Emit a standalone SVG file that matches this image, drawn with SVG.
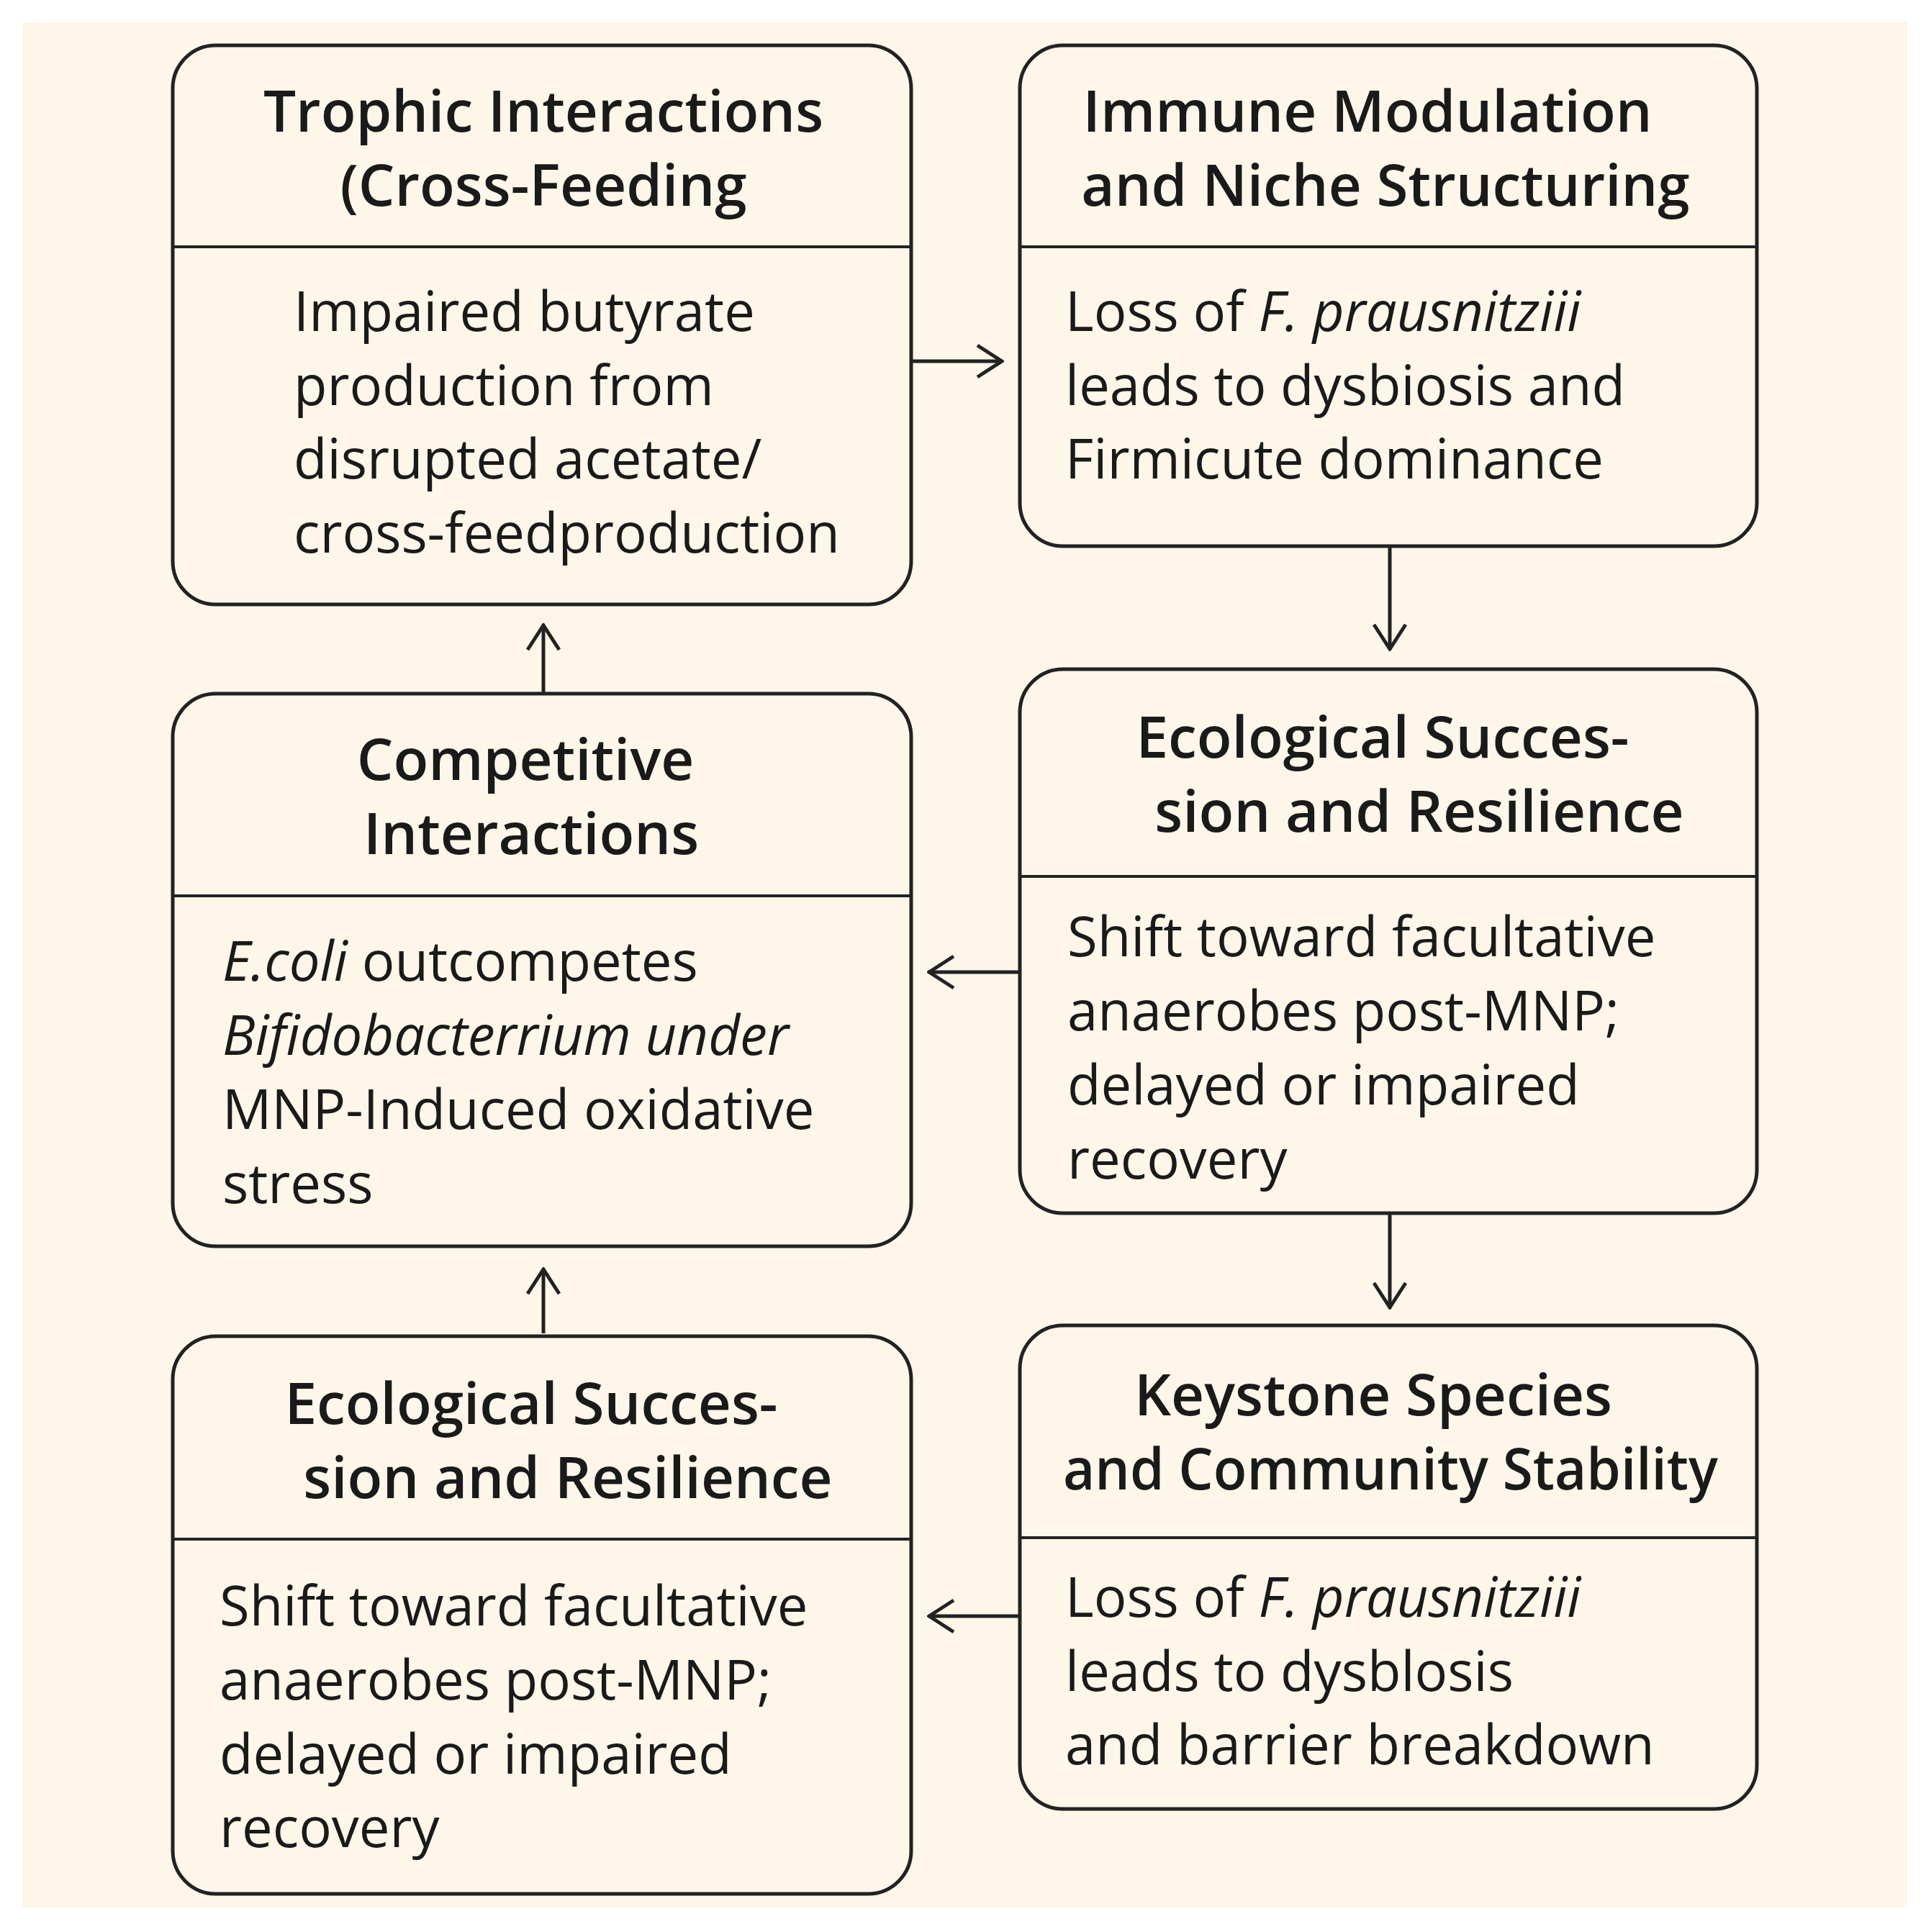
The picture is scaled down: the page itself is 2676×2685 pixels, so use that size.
<svg xmlns="http://www.w3.org/2000/svg" width="2676" height="2685" viewBox="0 0 2676 2685">
<defs>
<style>
.box{fill:#fdf6e9;stroke:#222;stroke-width:5}
.div{stroke:#222;stroke-width:4}
.h{font-family:"Open Sans","Liberation Sans",sans-serif;font-weight:600;font-size:80px;fill:#1a1a1a;text-anchor:middle}
.b{font-family:"Open Sans","Liberation Sans",sans-serif;font-size:76px;fill:#1a1a1a}
.c{stroke:#222;stroke-width:5;fill:none;marker-end:url(#ah)}
</style>
<marker id="ah" viewBox="0 0 40 50" refX="38" refY="25" markerWidth="40" markerHeight="50" markerUnits="userSpaceOnUse" orient="auto"><path d="M3,3 L37,25 L3,47" fill="none" stroke="#222" stroke-width="5"/></marker>
</defs>
<rect width="2676" height="2685" fill="#fff"/>
<rect x="31" y="31" width="2619" height="2620" fill="#fdf6e9"/>
<g id="n1"><rect class="box" x="240" y="63" width="1026" height="777" rx="60"/><line class="div" x1="240" y1="343" x2="1266" y2="343"/>
<text class="h" x="755" y="183">Trophic Interactions</text><text class="h" x="755" y="286">(Cross-Feeding</text>
<text class="b" x="408" y="460">Impaired butyrate</text><text class="b" x="408" y="563">production from</text><text class="b" x="408" y="665">disrupted acetate/</text><text class="b" x="408" y="768">cross-feedproduction</text></g>
<g id="n2"><rect class="box" x="1417" y="63" width="1024" height="696" rx="60"/><line class="div" x1="1417" y1="343" x2="2441" y2="343"/>
<text class="h" x="1900" y="183">Immune Modulation</text><text class="h" x="1925" y="286">and Niche Structuring</text>
<text class="b" x="1480" y="460">Loss of <tspan font-style="italic">F. prausnitziii</tspan></text><text class="b" x="1480" y="563">leads to dysbiosis and</text><text class="b" x="1480" y="665">Firmicute dominance</text></g>
<g id="n3"><rect class="box" x="1417" y="930" width="1024" height="756" rx="60"/><line class="div" x1="1417" y1="1218" x2="2441" y2="1218"/>
<text class="h" x="1921" y="1053">Ecological Succes-</text><text class="h" x="1972" y="1156">sion and Resilience</text>
<text class="b" x="1483" y="1329">Shift toward facultative</text><text class="b" x="1483" y="1432">anaerobes post-MNP;</text><text class="b" x="1483" y="1535">delayed or impaired</text><text class="b" x="1483" y="1638">recovery</text></g>
<g id="n4"><rect class="box" x="240" y="964" width="1026" height="768" rx="60"/><line class="div" x1="240" y1="1245" x2="1266" y2="1245"/>
<text class="h" x="730" y="1084">Competitive</text><text class="h" x="738" y="1187">Interactions</text>
<text class="b" x="309" y="1363"><tspan font-style="italic">E.coli</tspan> outcompetes</text><text class="b" x="309" y="1466" font-style="italic">Bifidobacterrium under</text><text class="b" x="309" y="1569">MNP-Induced oxidative</text><text class="b" x="309" y="1672">stress</text></g>
<g id="n5"><rect class="box" x="1417" y="1842" width="1024" height="672" rx="60"/><line class="div" x1="1417" y1="2137" x2="2441" y2="2137"/>
<text class="h" x="1908" y="1967">Keystone Species</text><text class="h" x="1932" y="2070" textLength="910" lengthAdjust="spacingAndGlyphs">and Community Stability</text>
<text class="b" x="1480" y="2247">Loss of <tspan font-style="italic">F. prausnitziii</tspan></text><text class="b" x="1480" y="2350">leads to dysblosis</text><text class="b" x="1480" y="2452">and barrier breakdown</text></g>
<g id="n6"><rect class="box" x="240" y="1857" width="1026" height="775" rx="60"/><line class="div" x1="240" y1="2139" x2="1266" y2="2139"/>
<text class="h" x="738" y="1979">Ecological Succes-</text><text class="h" x="789" y="2082">sion and Resilience</text>
<text class="b" x="305" y="2259">Shift toward facultative</text><text class="b" x="305" y="2362">anaerobes post-MNP;</text><text class="b" x="305" y="2465">delayed or impaired</text><text class="b" x="305" y="2567">recovery</text></g>
<g id="connectors">
<path class="c" d="M1268,502 H1393"/>
<path class="c" d="M1931,760 V903"/>
<path class="c" d="M1417,1351 H1290"/>
<path class="c" d="M755,962 V868"/>
<path class="c" d="M1931,1688 V1818"/>
<path class="c" d="M1417,2246 H1290"/>
<path class="c" d="M755,1853 V1763"/>
</g>
</svg>
